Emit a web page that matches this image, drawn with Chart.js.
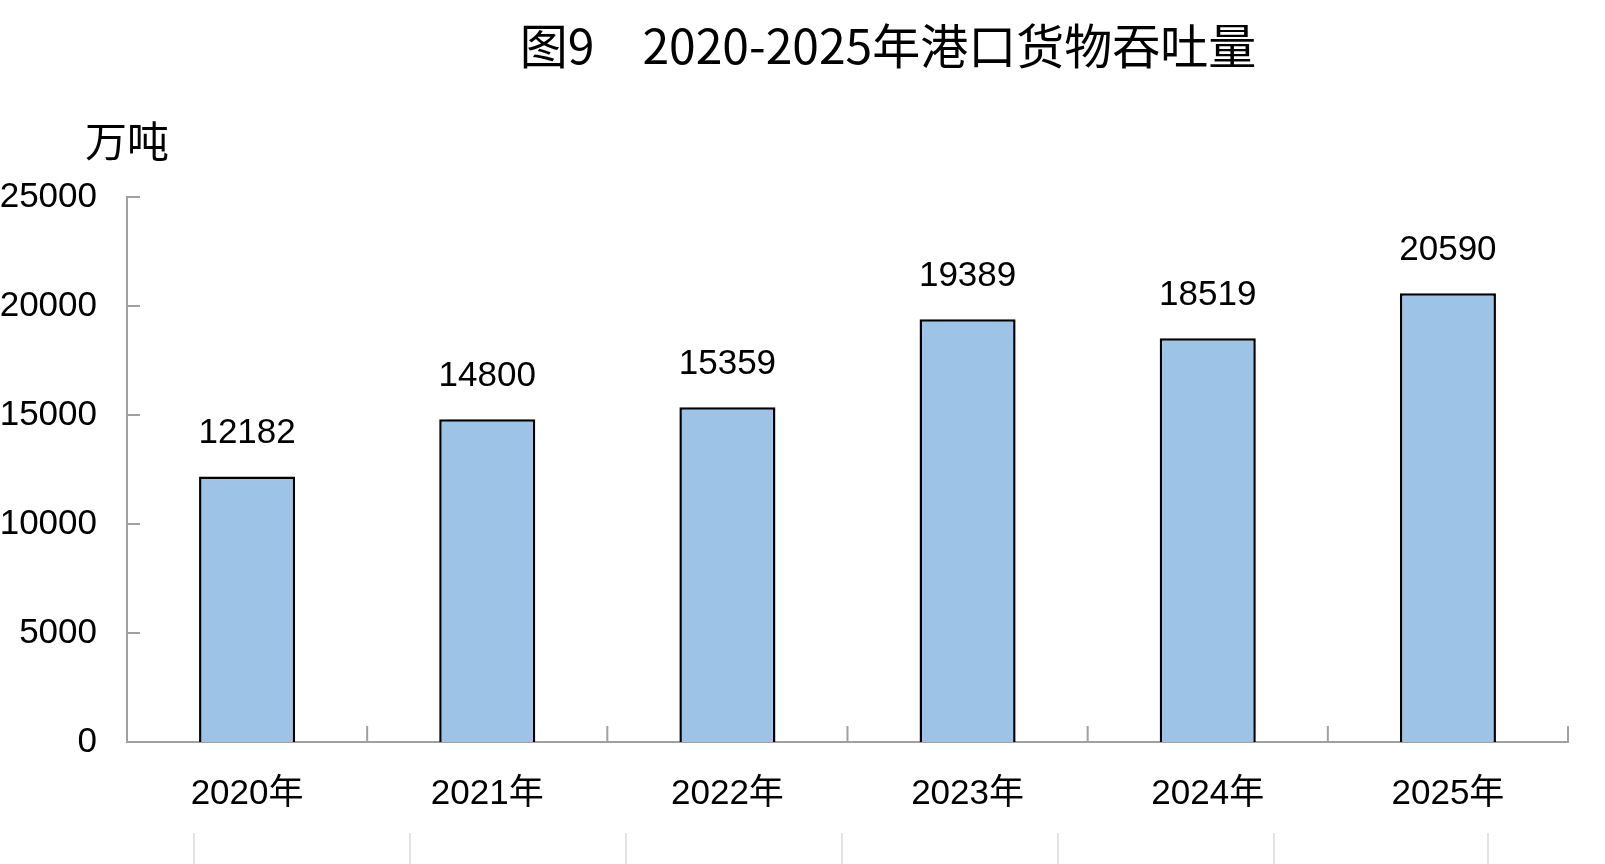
<!DOCTYPE html>
<html>
<head>
<meta charset="utf-8">
<script src="https://cdn.jsdelivr.net/npm/chart.js@4"></script>
<style>
  body { margin: 0; background: #fff; }
  #wrap { position: relative; width: 1605px; height: 864px; }
  #title {
    position: absolute; left: 488px; top: 19px; width: 800px;
    text-align: center; font: 48px/48px "Noto Sans CJK SC", sans-serif; color: #000;
  }
  #rows { position: absolute; left: 193px; top: 833px; display: flex; }
  #rows div { width: 216px; height: 31px; border-left: 2px solid #e3e3e3; box-sizing: border-box; }
  #rows div:last-child { border-right: 2px solid #e3e3e3; }
</style>
</head>
<body>
<div id="wrap">
  <canvas id="chart" width="1605" height="864"></canvas>
  <div id="title">图9　2020-2025年港口货物吞吐量</div>
  <div id="rows"><div></div><div></div><div></div><div></div><div></div><div></div></div>
</div>
<script>
const years = ['2020年', '2021年', '2022年', '2023年', '2024年', '2025年']
const throughput = [12182, 14800, 15359, 19389, 18519, 20590]
const unitLabel = '万吨'

const axisColor = '#a0a0a0'
const labelFont = { family: '"Liberation Sans", "Noto Sans CJK SC", sans-serif', size: 35 }

// short tick marks that point into the plot, like the original
const innerTicks = {
    id: 'innerTicks',
    beforeDatasetsDraw(chart) {
        const { ctx, scales: { x, y } } = chart
        ctx.save()
        ctx.strokeStyle = axisColor
        ctx.lineWidth = 2
        ctx.beginPath()
        y.ticks.forEach((t, i) => {
            const py = y.getPixelForTick(i)
            ctx.moveTo(x.left, py)
            ctx.lineTo(x.left + 13, py)
        })
        const step = x.getPixelForValue(1) - x.getPixelForValue(0)
        for (let i = 1; i <= years.length; i++) {
            const px = x.getPixelForValue(i) - step / 2
            ctx.moveTo(px, y.bottom)
            ctx.lineTo(px, y.bottom - 16)
        }
        ctx.stroke()
        ctx.restore()
    }
}

const valueLabels = {
    id: 'valueLabels',
    afterDatasetsDraw(chart) {
        const { ctx } = chart
        ctx.save()
        ctx.font = `${labelFont.size}px ${labelFont.family}`
        ctx.fillStyle = '#000'
        ctx.textAlign = 'center'
        ctx.textBaseline = 'alphabetic'
        chart.getDatasetMeta(0).data.forEach((bar, i) => {
            ctx.fillText(String(throughput[i]), bar.x, bar.y - 33)
        })
        // unit above the y axis
        ctx.font = '42px "Noto Sans CJK SC", sans-serif'
        ctx.textBaseline = 'middle'
        ctx.fillText(unitLabel, chart.scales.y.right, 141)
        ctx.restore()
    }
}

new Chart(document.getElementById('chart'), {
    type: 'bar',
    data: {
        labels: years,
        datasets: [{
            data: throughput,
            backgroundColor: '#9dc3e6',
            borderColor: '#000',
            borderWidth: 2.5,
            categoryPercentage: 1,
            barPercentage: 0.4
        }]
    },
    options: {
        responsive: false,
        devicePixelRatio: 1,
        animation: false,
        layout: { padding: { left: 0, right: 37, top: 197, bottom: 18 } },
        plugins: {
            legend: { display: false },
            tooltip: { enabled: false }
        },
        scales: {
            x: {
                grid: { display: false, drawTicks: false },
                border: { display: true, color: axisColor, width: 2 },
                ticks: { color: '#000', font: labelFont, padding: 31 }
            },
            y: {
                min: 0,
                max: 25000,
                afterFit: s => { s.width = 127 },
                grid: { display: false, drawTicks: false },
                border: { display: true, color: axisColor, width: 2 },
                ticks: {
                    stepSize: 5000, color: '#000', font: labelFont, padding: 30,
                    callback: v => String(v)
                }
            }
        }
    },
    plugins: [innerTicks, valueLabels]
})
</script>
</body>
</html>
